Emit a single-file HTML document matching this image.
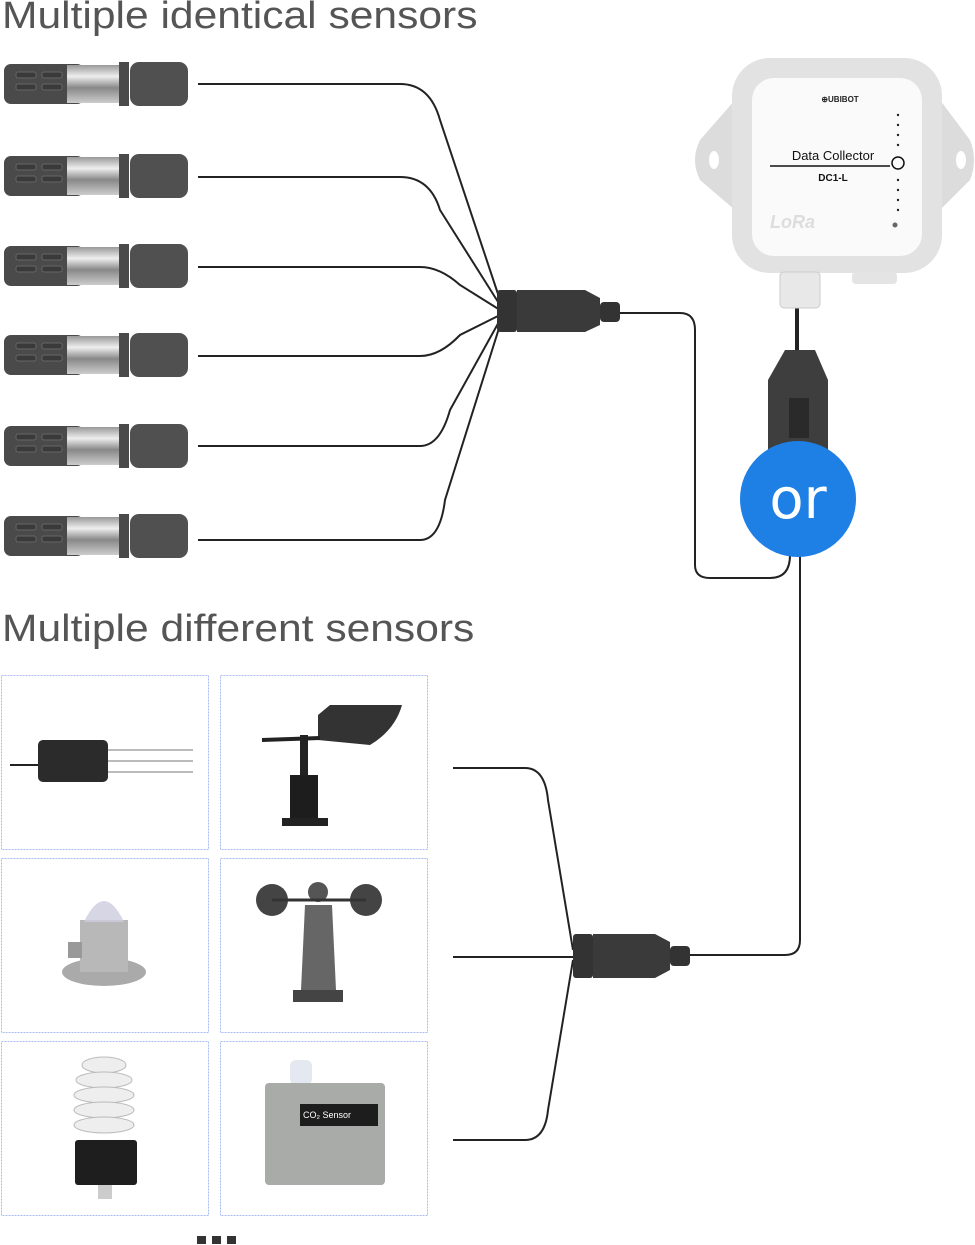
<!DOCTYPE html>
<html><head><meta charset="utf-8"><style>
body{margin:0;background:#fff;width:975px;height:1245px;overflow:hidden;position:relative;font-family:"Liberation Sans",sans-serif}
.h{position:absolute;left:2px;font-size:38px;color:#555;white-space:nowrap;transform:scaleX(1.12);transform-origin:0 0}
</style></head><body>
<div class="h" style="top:-5px">Multiple identical sensors</div>
<div class="h" style="top:608px">Multiple different sensors</div>
<svg width="975" height="1245" style="position:absolute;left:0;top:0">
<defs>
<linearGradient id="met" x1="0" y1="0" x2="0" y2="1"><stop offset="0" stop-color="#999"/><stop offset=".3" stop-color="#eee"/><stop offset=".6" stop-color="#888"/><stop offset="1" stop-color="#ccc"/></linearGradient>
<g id="s">
<rect x="4" y="-20" width="80" height="40" rx="7" fill="#4a4a4a"/>
<rect x="16" y="-12" width="20" height="6" rx="2" fill="#3a3a3a" stroke="#666"/><rect x="42" y="-12" width="20" height="6" rx="2" fill="#3a3a3a" stroke="#666"/>
<rect x="16" y="0" width="20" height="6" rx="2" fill="#3a3a3a" stroke="#666"/><rect x="42" y="0" width="20" height="6" rx="2" fill="#3a3a3a" stroke="#666"/>
<rect x="67" y="-19" width="53" height="38" fill="url(#met)"/>
<rect x="119" y="-22" width="10" height="44" fill="#4a4a4a"/>
<rect x="130" y="-22" width="58" height="44" rx="9" fill="#505050"/>
</g>
</defs>
<g fill="none" stroke="#222" stroke-width="2">
<path d="M198 84 H400 Q430 84 440 120 L500 300"/>
<path d="M198 177 H400 Q430 177 440 210 L500 305"/>
<path d="M198 267 H420 Q440 267 460 285 L500 310"/>
<path d="M198 356 H420 Q440 356 460 335 L500 315"/>
<path d="M198 446 H420 Q440 446 450 410 L500 320"/>
<path d="M198 540 H420 Q440 540 445 500 L500 325"/>
<path d="M620 313 H680 Q695 313 695 330 V565 Q695 578 710 578 H770 Q790 578 790 555"/>
<path d="M800 540 V940 Q800 955 785 955 H690"/>
<path d="M453 768 H525 Q545 768 548 800 L573 950"/>
<path d="M453 957 H573"/>
<path d="M453 1140 H525 Q545 1140 548 1110 L573 960"/>
<path d="M797 305 V350" stroke-width="4"/>
</g>
<use href="#s" y="84"/><use href="#s" y="176"/><use href="#s" y="266"/><use href="#s" y="355"/><use href="#s" y="446"/><use href="#s" y="536"/>
<rect x="497" y="290" width="20" height="42" rx="3" fill="#333"/>
<path d="M517 290 H585 L600 298 V325 L585 332 H517Z" fill="#3a3a3a"/>
<rect x="600" y="302" width="20" height="20" rx="4" fill="#333"/>
<rect x="573" y="934" width="20" height="44" rx="3" fill="#333"/>
<path d="M593 934 H655 L670 942 V970 L655 978 H593Z" fill="#3a3a3a"/>
<rect x="670" y="946" width="20" height="20" rx="4" fill="#333"/>
<path d="M735 100 L700 140 Q690 160 700 180 L735 210Z" fill="#dcdcdc"/>
<path d="M940 100 L970 140 Q978 160 970 180 L940 210Z" fill="#dcdcdc"/>
<ellipse cx="714" cy="160" rx="5" ry="9" fill="#fff"/><ellipse cx="961" cy="160" rx="5" ry="9" fill="#fff"/>
<rect x="732" y="58" width="210" height="215" rx="38" fill="#e2e2e2"/>
<rect x="752" y="78" width="170" height="178" rx="22" fill="#fafafa"/>
<rect x="780" y="272" width="40" height="36" rx="4" fill="#e8e8e8" stroke="#ccc"/>
<rect x="852" y="272" width="45" height="12" rx="4" fill="#e4e4e4"/>
<line x1="770" y1="166" x2="890" y2="166" stroke="#111" stroke-width="1.5"/>
<circle cx="898" cy="163" r="6" fill="none" stroke="#111" stroke-width="1.5"/>
<text x="833" y="160" font-size="13" text-anchor="middle" fill="#111">Data Collector</text>
<text x="833" y="181" font-size="10" text-anchor="middle" fill="#111" font-weight="bold">DC1-L</text>
<text x="840" y="102" font-size="8" text-anchor="middle" fill="#222" font-weight="bold">⊕UBIBOT</text>
<text x="770" y="228" font-size="18" fill="#ddd" font-weight="bold" font-style="italic">LoRa</text>
<g fill="#222"><circle cx="898" cy="115" r="1.2"/><circle cx="898" cy="125" r="1.2"/><circle cx="898" cy="135" r="1.2"/><circle cx="898" cy="145" r="1.2"/><circle cx="898" cy="180" r="1.2"/><circle cx="898" cy="190" r="1.2"/><circle cx="898" cy="200" r="1.2"/><circle cx="898" cy="210" r="1.2"/><circle cx="895" cy="225" r="2.5" fill="#666"/></g>
<path d="M785 350 H815 L828 380 V450 H768 V380Z" fill="#3e3e3e"/>
<rect x="789" y="398" width="20" height="40" fill="#2a2a2a"/>
<circle cx="798" cy="499" r="58" fill="#1e7fe4"/>
<text x="798" y="518" font-size="56" fill="#fff" text-anchor="middle" font-family="DejaVu Sans,sans-serif">or</text>
<g fill="none" stroke="#a9bbef" stroke-dasharray="2 1">
<rect x="1.5" y="675.5" width="207" height="174"/><rect x="220.5" y="675.5" width="207" height="174"/>
<rect x="1.5" y="858.5" width="207" height="174"/><rect x="220.5" y="858.5" width="207" height="174"/>
<rect x="1.5" y="1041.5" width="207" height="174"/><rect x="220.5" y="1041.5" width="207" height="174"/>
</g>
<path d="M10 765 H40" stroke="#222" stroke-width="2"/>
<rect x="38" y="740" width="70" height="42" rx="5" fill="#2b2b2b"/>
<g stroke="#bbb" stroke-width="2"><line x1="108" y1="750" x2="193" y2="750"/><line x1="108" y1="761" x2="193" y2="761"/><line x1="108" y1="772" x2="193" y2="772"/></g>
<path d="M318 715 L330 705 H402 Q395 730 370 745 L318 740Z" fill="#333"/>
<line x1="262" y1="740" x2="320" y2="738" stroke="#222" stroke-width="4"/>
<rect x="300" y="735" width="8" height="45" fill="#222"/>
<rect x="290" y="775" width="28" height="45" fill="#1d1d1d"/><rect x="282" y="818" width="46" height="8" fill="#222"/>
<ellipse cx="104" cy="972" rx="42" ry="14" fill="#aaa"/>
<rect x="80" y="920" width="48" height="52" fill="#b8b8b8"/>
<path d="M84 922 Q104 880 124 922Z" fill="#ccd" opacity=".8"/>
<rect x="68" y="942" width="14" height="16" fill="#999"/>
<circle cx="272" cy="900" r="16" fill="#444"/><circle cx="366" cy="900" r="16" fill="#444"/><circle cx="318" cy="892" r="10" fill="#555"/>
<line x1="272" y1="900" x2="366" y2="900" stroke="#333" stroke-width="3"/>
<path d="M305 905 H332 L336 990 H301Z" fill="#666"/>
<rect x="293" y="990" width="50" height="12" fill="#444"/>
<g fill="#eee" stroke="#bbb"><ellipse cx="104" cy="1065" rx="22" ry="8"/><ellipse cx="104" cy="1080" rx="28" ry="8"/><ellipse cx="104" cy="1095" rx="30" ry="8"/><ellipse cx="104" cy="1110" rx="30" ry="8"/><ellipse cx="104" cy="1125" rx="30" ry="8"/></g>
<rect x="75" y="1140" width="62" height="45" rx="3" fill="#1e1e1e"/>
<rect x="98" y="1185" width="14" height="14" fill="#ccc"/>
<rect x="290" y="1060" width="22" height="25" rx="6" fill="#e4e8f0"/>
<rect x="265" y="1083" width="120" height="102" rx="4" fill="#a9aba8"/>
<rect x="300" y="1104" width="78" height="22" fill="#1d1d1d"/>
<text x="327" y="1118" font-size="9" fill="#fff" text-anchor="middle">CO₂ Sensor</text>
<g fill="#333"><rect x="197" y="1236" width="9" height="8"/><rect x="212" y="1236" width="9" height="8"/><rect x="227" y="1236" width="9" height="8"/></g>
</svg>
</body></html>
